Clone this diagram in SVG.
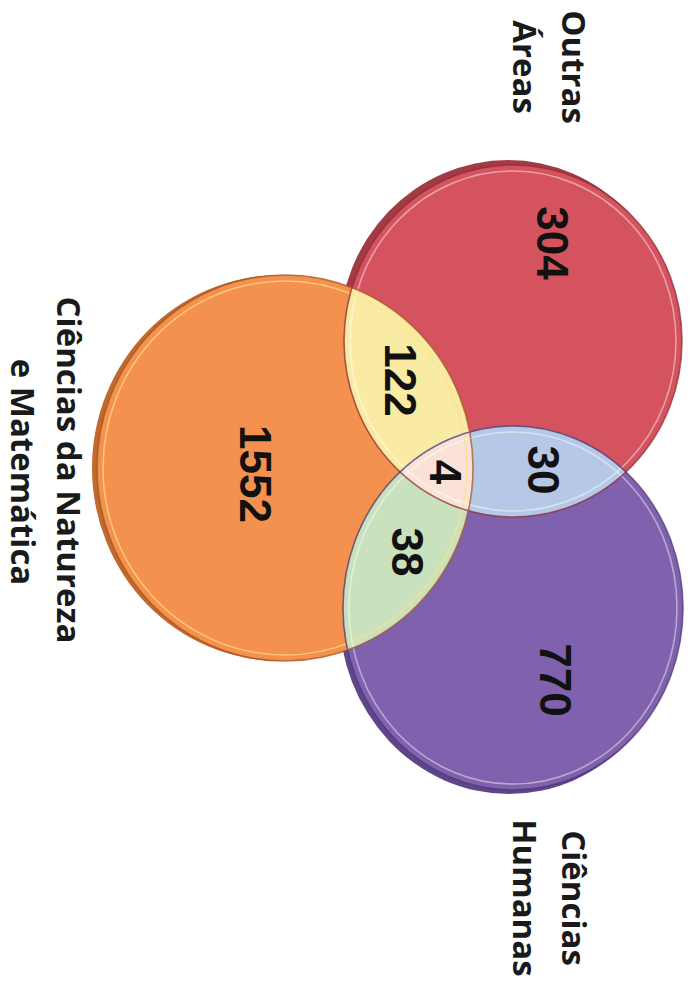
<svg xmlns="http://www.w3.org/2000/svg" width="695" height="982" viewBox="0 0 695 982">
<style>
.num{font-family:"Liberation Sans",Arial,sans-serif;font-weight:bold;font-size:44px;fill:#111;text-anchor:middle}
.lbl{font-family:"Open Sans","Liberation Sans",sans-serif;font-weight:bold;font-size:33px;fill:#1a1a1a;text-anchor:middle}
.edge{fill:none;stroke-width:1.6;stroke-opacity:.75}
.hl{fill:none;stroke:#fff;stroke-opacity:.45;stroke-width:1.6}
</style>
<defs>
<ellipse id="eR" cx="513" cy="341" rx="169" ry="176"/>
<ellipse id="eP" cx="513" cy="608" rx="170" ry="182"/>
<ellipse id="eO" cx="285" cy="468" rx="188" ry="193"/>
<clipPath id="cR"><use href="#eR"/></clipPath>
<clipPath id="cP"><use href="#eP"/></clipPath>
<clipPath id="cO"><use href="#eO"/></clipPath>
</defs>
<rect width="695" height="982" fill="#fff"/>
<g id="extrusions">
<use href="#eR" transform="translate(-5,-5)" fill="#A33B45"/>
<use href="#eO" transform="translate(-5,0)" fill="#C26A2E"/>
<use href="#eP" transform="translate(-4,4)" fill="#5F4689"/>
</g>
<g id="outras-areas">
<use href="#eR" fill="#D4535E"/>
</g>
<g id="ciencias-humanas">
<use href="#eP" fill="#8061AD"/>
</g>
<g id="ciencias-natureza">
<use href="#eO" fill="#F4914E"/>
</g>
<g id="natureza-outras" clip-path="url(#cO)">
<use href="#eR" fill="#FAEBA4"/>
</g>
<g id="natureza-humanas" clip-path="url(#cO)">
<use href="#eP" fill="#C9E2BD"/>
</g>
<g id="outras-humanas" clip-path="url(#cR)">
<use href="#eP" fill="#B5C9E7"/>
</g>
<g id="todas" clip-path="url(#cO)">
<g clip-path="url(#cR)">
<use href="#eP" fill="#FAE3D6"/>
</g>
</g>
<g id="bevels">
<ellipse class="hl" cx="513" cy="341" rx="163" ry="170"/>
<ellipse class="hl" cx="513" cy="608" rx="164" ry="176"/>
<ellipse class="hl" cx="285" cy="468" rx="182" ry="187" style="stroke:#FFE08A;stroke-opacity:.7"/>
<use href="#eR" class="edge" stroke="#8E2F38"/>
<use href="#eP" class="edge" stroke="#4E3878"/>
<use href="#eO" class="edge" stroke="#A8561F"/>
</g>
<g id="connectors"></g>
<g id="numbers">
<text class="num" transform="translate(537,243) rotate(90)">304</text>
<text class="num" transform="translate(385,380) rotate(90)">122</text>
<text class="num" transform="translate(430,472) rotate(90)">4</text>
<text class="num" transform="translate(528,470) rotate(90)">30</text>
<text class="num" transform="translate(392,552) rotate(90)">38</text>
<text class="num" transform="translate(540,680) rotate(90)">770</text>
<text class="num" transform="translate(240,474) rotate(90)">1552</text>
</g>
<g id="labels">
<text class="lbl" transform="translate(562,67) rotate(90)">Outras</text>
<text class="lbl" transform="translate(513,67) rotate(90)">Áreas</text>
<text class="lbl" transform="translate(57,470) rotate(90)">Ciências da Natureza</text>
<text class="lbl" transform="translate(11,472) rotate(90)">e Matemática</text>
<text class="lbl" transform="translate(562,898) rotate(90)">Ciências</text>
<text class="lbl" transform="translate(513,898) rotate(90)">Humanas</text>
</g>
</svg>
